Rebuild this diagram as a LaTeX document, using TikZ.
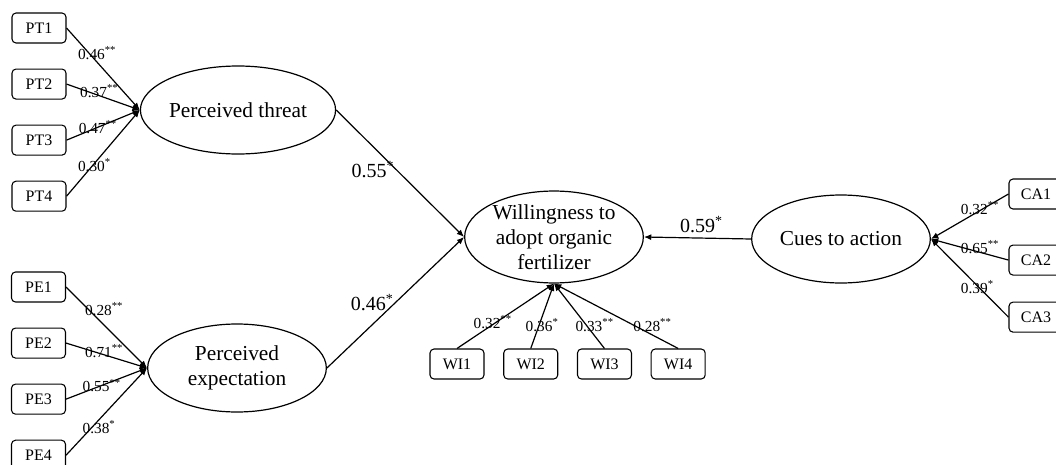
\documentclass[tikz,border=0pt]{standalone}
\usepackage{fontspec}
\setmainfont{Liberation Serif}
\usetikzlibrary{arrows.meta, positioning, shapes.geometric}

\newcommand{\coef}[2]{#1\rlap{\textsuperscript{#2}}}

\begin{document}
\begin{tikzpicture}[
  x=0.75pt, y=-0.75pt,
  latent/.style = {draw, ellipse, line width=0.9pt, minimum width=134pt, minimum height=66pt,
                   inner sep=0pt, align=center, font=\fontsize{16}{18.75}\selectfont},
  item/.style = {draw, line width=0.8pt, rounded corners=3pt, minimum width=40.5pt,
                 minimum height=22.5pt, inner sep=0pt, font=\fontsize{12}{14}\selectfont},
  loading/.style = {line width=0.9pt, -{Latex[length=5.5pt, width=4.5pt]}},
  lbl/.style = {font=\fontsize{11.5}{13}\selectfont, inner sep=0pt},
  biglbl/.style = {font=\fontsize{15}{17}\selectfont},
  node distance=18.75pt and 14pt
  ]

  \useasboundingbox (0,0) rectangle (1056,464);

    % Latent constructs
  \node[latent] (threat) at (238,110) {Perceived threat};
  \node[latent] (expect) at (237,368) {Perceived\\expectation};
  \node[latent] (will) at (554,237) {Willingness to\\adopt organic\\fertilizer};
  \node[latent] (cues) at (841,239) {Cues to action};

    % Perceived threat items
  \node[item] (pt1) at (39,28) {PT1};
  \node[item, below=of pt1] (pt2) {PT2};
  \node[item, below=of pt2] (pt3) {PT3};
  \node[item, below=of pt3] (pt4) {PT4};

    % Perceived expectation items
  \node[item] (pe1) at (38.5,287) {PE1};
  \node[item, below=of pe1] (pe2) {PE2};
  \node[item, below=of pe2] (pe3) {PE3};
  \node[item, below=of pe3] (pe4) {PE4};

    % Willingness items
  \node[item] (wi1) at (457,364) {WI1};
  \node[item, right=of wi1] (wi2) {WI2};
  \node[item, right=of wi2] (wi3) {WI3};
  \node[item, right=of wi3] (wi4) {WI4};

    % Cues to action items
  \node[item] (ca1) at (1036,194) {CA1};
  \node[item, below=26.25pt of ca1] (ca2) {CA2};
  \node[item, below=19.5pt of ca2] (ca3) {CA3};

    % Loadings
  \draw[loading] (pt1.east) -- node[lbl, pos=.34, yshift=2pt] {\coef{0.46}{**}} (threat.west);
  \draw[loading] (pt2.east) -- node[lbl, pos=.37, yshift=2pt] {\coef{0.37}{**}} (threat.west);
  \draw[loading] (pt3.east) -- node[lbl, pos=.35, yshift=2pt] {\coef{0.47}{**}} (threat.west);
  \draw[loading] (pt4.east) -- node[lbl, pos=.34, yshift=1.5pt] {\coef{0.30}{*}} (threat.west);

  \draw[loading] (pe1.east) -- node[lbl, pos=.40, yshift=7.5pt] {\coef{0.28}{**}} (expect.west);
  \draw[loading] (pe2.east) -- node[lbl, pos=.40, yshift=1.5pt] {\coef{0.71}{**}} (expect.west);
  \draw[loading] (pe3.east) -- node[lbl, pos=.37, yshift=1.5pt] {\coef{0.55}{**}} (expect.west);
  \draw[loading] (pe4.east) -- node[lbl, pos=.37, yshift=-3pt] {\coef{0.38}{*}} (expect.west);

  \draw[loading] (wi1.north) -- node[lbl, pos=.31, yshift=4.5pt] {\coef{0.32}{**}} (will.south);
  \draw[loading] (wi2.north) -- node[lbl, pos=.36] {\coef{0.36}{*}} (will.south);
  \draw[loading] (wi3.north) -- node[lbl, pos=.36, xshift=2pt] {\coef{0.33}{**}} (will.south);
  \draw[loading] (wi4.north) -- node[lbl, pos=.36, xshift=10pt] {\coef{0.28}{**}} (will.south);

  \draw[loading] (ca1.west) -- node[lbl, pos=.44, yshift=4.5pt] {\coef{0.32}{**}} (cues.east);
  \draw[loading] (ca2.west) -- node[lbl, pos=.44, yshift=3pt] {\coef{0.65}{**}} (cues.east);
  \draw[loading] (ca3.west) -- node[lbl, pos=.44, yshift=-3.5pt] {\coef{0.39}{*}} (cues.east);

    % Paths
  \draw[loading] (threat.east) -- node[biglbl, pos=.4, anchor=north east, inner sep=0pt] {\coef{0.55}{*}} (will.west);
  \draw[loading] (expect.east) -- node[biglbl, pos=.435, anchor=south east, inner sep=0pt] {\coef{0.46}{*}} (will.west);
  \draw[loading] (cues.west) -- node[biglbl, above] {\coef{0.59}{*}} (will.east);

\end{tikzpicture}
\end{document}
